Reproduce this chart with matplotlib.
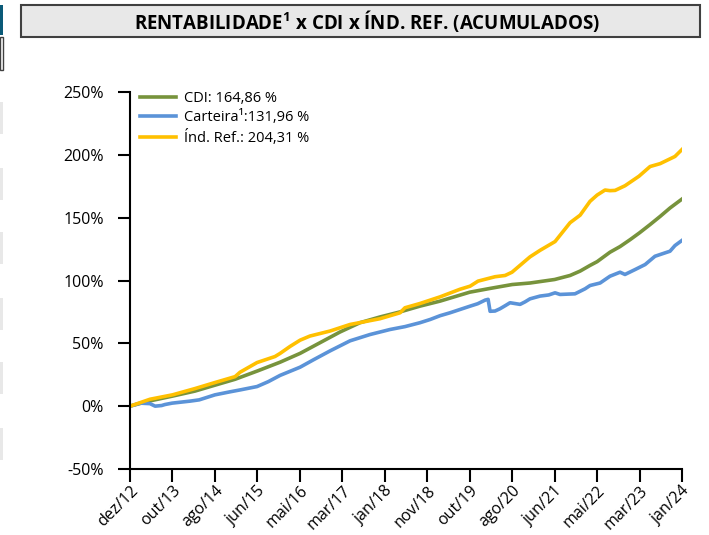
import matplotlib
matplotlib.use("Agg")
import matplotlib.pyplot as plt
from matplotlib.patches import Rectangle
import numpy as np

plt.rcParams['font.family'] = ['Open Sans', 'DejaVu Sans']
plt.rcParams['mathtext.fontset'] = 'custom'
plt.rcParams['mathtext.rm'] = 'Open Sans'
plt.rcParams['mathtext.bf'] = 'Open Sans:bold'

# eixo x: indice de pregoes (dez/12 -> jan/24)
N_DAYS = 2795
tick_labels = ['dez/12', 'out/13', 'ago/14', 'jun/15', 'mai/16', 'mar/17', 'jan/18',
               'nov/18', 'out/19', 'ago/20', 'jun/21', 'mai/22', 'mar/23', 'jan/24']

cdi_days = [0, 101, 215, 329, 430, 532, 645, 760, 861, 962, 1063, 1164, 1266, 1367,
            1468, 1570, 1720, 1823, 1935, 2025, 2150, 2228, 2279, 2329, 2365, 2430,
            2481, 2532, 2580, 2633, 2684, 2734, 2795]
cdi_vals = [0, 4.2, 8, 12, 16.7, 21.4, 28, 35, 42, 50.5, 59, 66.4, 71, 75,
            79.6, 83.6, 90.7, 93.7, 96.8, 98, 100.8, 104, 107.5, 112, 115, 122.5,
            127, 132.5, 138, 144.5, 151, 157.7, 164.86]

cart_days = [0, 51, 101, 127, 160, 177, 213, 304, 350, 430, 506, 560, 643, 700, 760,
             861, 930, 1013, 1114, 1215, 1291, 1316, 1392, 1468, 1520, 1570,
             1620, 1722, 1760, 1798, 1813, 1823, 1848, 1873, 1900, 1924, 1975, 2000,
             2025, 2076, 2120, 2152, 2177, 2253, 2304, 2329, 2380, 2430, 2481, 2506,
             2557, 2608, 2658, 2709, 2734, 2759, 2795]
cart_vals = [0, 2.4, 2, 0, 0.5, 1.3, 2.4, 4, 5, 9, 11.4, 13, 15.6, 19.5, 24.5,
             31, 37, 44, 52, 57, 60, 61, 63.3, 66.4, 69, 72,
             74.3, 79.6, 81.5, 84.4, 85, 75.5, 75.7, 77.5, 80, 82.3, 81, 83,
             85.4, 87.6, 88.5, 90.2, 88.9, 89.4, 93.4, 96, 98, 103.4, 106.6, 104.8,
             108.7, 112.7, 119.3, 122, 123.3, 127.8, 131.96]

ref_days = [0, 101, 215, 329, 430, 532, 557, 643, 734, 760, 810, 861, 911, 1013, 1114,
            1164, 1266, 1367, 1392, 1468, 1570, 1670, 1722, 1762, 1848, 1899, 1934,
            2025, 2076, 2152, 2228, 2279, 2329, 2365, 2405, 2430, 2456, 2506, 2577,
            2633, 2684, 2759, 2795]
ref_vals = [0, 5.5, 9, 14, 18.8, 23.5, 27, 34.7, 39.5, 42, 47.5, 52.5, 55.8, 59.8, 65,
            66.5, 69.6, 74.3, 78.3, 81.7, 87, 93, 95.5, 99.5, 103, 104, 106.6,
            118.8, 124, 131, 146, 152, 163, 168, 172, 171.5, 171.7, 175.4, 183,
            190.7, 193, 198.7, 204.31]

legend_labels = ['CDI: 164,86 %', 'Carteira¹:131,96 %', 'Índ. Ref.: 204,31 %']
yticks = [-50, 0, 50, 100, 150, 200, 250]

fig = plt.figure(figsize=(7.09, 5.35), dpi=100)
ax = fig.add_axes([0.1834, 0.1234, 0.7786, 0.7046])

ax.plot(cdi_days, cdi_vals, color='#77933c', lw=2.6, label=legend_labels[0])
ax.plot(cart_days, cart_vals, color='#5b93d8', lw=2.6, label=legend_labels[1])
ax.plot(ref_days, ref_vals, color='#ffc000', lw=2.6, label=legend_labels[2])

ax.set_xlim(0, N_DAYS)
ax.set_ylim(-50, 250)
ax.set_yticks(yticks)
ax.set_yticklabels([f'{v}%' for v in yticks])
ax.set_xticks(np.linspace(0, N_DAYS, len(tick_labels)))
ax.set_xticklabels(tick_labels, rotation=45, ha='right', rotation_mode='anchor')
ax.tick_params(axis='both', direction='out', length=9, width=1.5, labelsize=11.5,
               colors='black')
ax.tick_params(axis='y', pad=10)
ax.tick_params(axis='x', pad=1)
for s in ['top', 'right']:
    ax.spines[s].set_visible(False)
for s in ['left', 'bottom']:
    ax.spines[s].set_linewidth(1.5)

ax.legend(loc='upper left', bbox_to_anchor=(140 / 709, 1 - 91 / 535),
          bbox_transform=fig.transFigure, frameon=False, fontsize=10.5,
          handlelength=2.5, handletextpad=0.55, labelspacing=0.3,
          borderpad=0, borderaxespad=0)

# caixa do titulo
fig.patches.append(Rectangle((21 / 709, 1 - 37 / 535), 679 / 709, 32 / 535,
                             transform=fig.transFigure, facecolor='#e8e8e8',
                             edgecolor='#404040', lw=1.5))
fig.text(367 / 709, 1 - 21 / 535,
         r'RENTABILIDADE$^{\mathbf{1}}$ x CDI x ÍND. REF. (ACUMULADOS)',
         ha='center', va='center', fontsize=13.5, fontweight='bold')

# recortes na borda esquerda
fig.patches.append(Rectangle((0, 1 - 35 / 535), 2.5 / 709, 30 / 535,
                             transform=fig.transFigure, facecolor='#0b5a78', lw=0))
fig.patches.append(Rectangle((0, 1 - 70 / 535), 3 / 709, 33 / 535,
                             transform=fig.transFigure, facecolor='white',
                             edgecolor='#404040', lw=1))
for y0 in [102, 168, 232, 298, 362, 428]:
    fig.patches.append(Rectangle((0, 1 - (y0 + 32) / 535), 3 / 709, 32 / 535,
                                 transform=fig.transFigure, facecolor='#e8e8e8', lw=0))

fig.savefig('out.png', dpi=100)
